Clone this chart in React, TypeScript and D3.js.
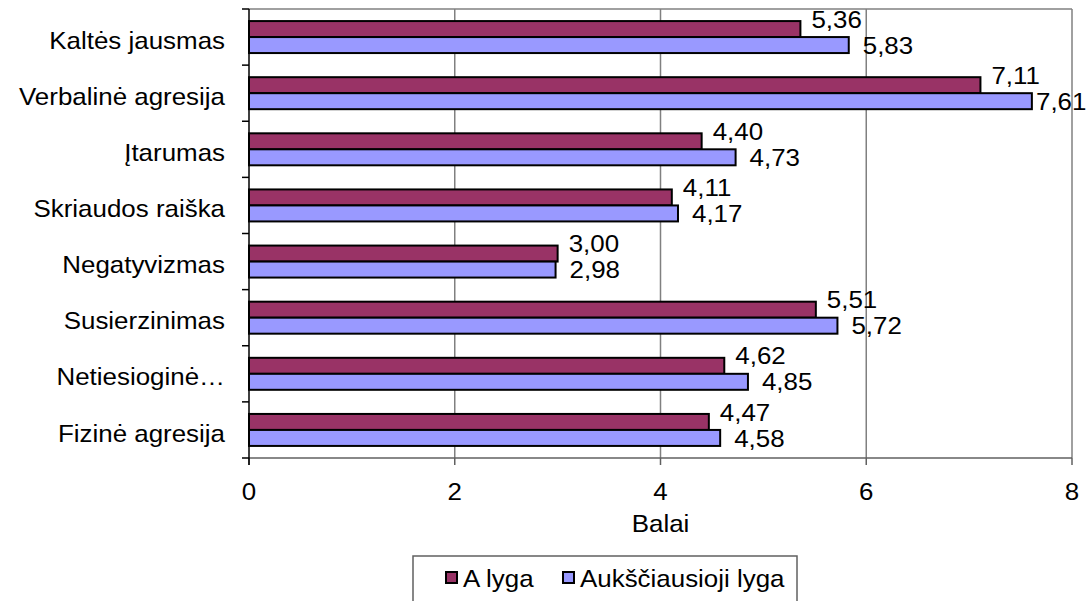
import * as d3 from "d3";

const categories = [
  "Kaltės jausmas",
  "Verbalinė agresija",
  "Įtarumas",
  "Skriaudos raiška",
  "Negatyvizmas",
  "Susierzinimas",
  "Netiesioginė…",
  "Fizinė agresija",
];
const seriesNames = ["A lyga", "Aukščiausioji lyga"];
const aLyga = [5.36, 7.11, 4.4, 4.11, 3.0, 5.51, 4.62, 4.47];
const aukstLyga = [5.83, 7.61, 4.73, 4.17, 2.98, 5.72, 4.85, 4.58];
const xTicks = [0, 2, 4, 6, 8];
const xTitle = "Balai";

const colors = ["#993366", "#9999FF"];
const W = 1092;
const H = 601;
const m = { left: 249, top: 9, right: 1072, bottom: 458 };
const FS = 24;
const SX = 1.08; // the original text is a bit wider than plain Arial
const FONT = "'Liberation Sans', Arial, sans-serif";

const fmt = (v: number) => d3.format(".2f")(v).replace(".", ",");

function T({ x, y, anchor = "start", children }: { x: number; y: number; anchor?: string; children: any }) {
  return (
    <text
      transform={`translate(${x},${y}) scale(${SX},1)`}
      textAnchor={anchor}
      dominantBaseline="central"
      fontSize={FS}
      fontFamily={FONT}
      fill="#000"
    >
      {children}
    </text>
  );
}

export default function App() {
  const x = d3.scaleLinear().domain([0, 8]).range([m.left, m.right]);
  const y = d3
    .scaleBand<string>()
    .domain(categories)
    .range([m.top, m.bottom])
    .paddingInner(0.43)
    .paddingOuter(0.215);
  const inner = d3.scaleBand<number>().domain([0, 1]).range([0, y.bandwidth()]);
  const step = y.step();
  const series = [aLyga, aukstLyga];
  const boundaries = d3.range(categories.length + 1).map((i) => m.top + i * step);

  return (
    <svg width={W} height={H} style={{ position: "absolute", left: 0, top: 0, background: "#fff" }}>
      {/* grid */}
      {xTicks.slice(1).map((t) => (
        <line key={t} x1={x(t)} x2={x(t)} y1={m.top} y2={m.bottom} stroke="#808080" strokeWidth={1.5} />
      ))}
      <line x1={m.left} x2={m.right} y1={m.top} y2={m.top} stroke="#808080" strokeWidth={1.5} />

      {/* bars */}
      {categories.map((c, i) =>
        series.map((s, j) => {
          const y0 = (y(c) as number) + (inner(j) as number);
          return (
            <rect
              key={c + j}
              x={x(0)}
              y={y0}
              width={x(s[i]) - x(0)}
              height={inner.bandwidth()}
              fill={colors[j]}
              stroke="#000"
              strokeWidth={2}
            />
          );
        })
      )}

      {/* value labels */}
      {categories.map((c, i) =>
        series.map((s, j) => {
          const yc = (y(c) as number) + (inner(j) as number) + inner.bandwidth() / 2;
          const lx = Math.min(x(s[i]) + (j === 0 ? 11 : 14), W - 56);
          return (
            <T key={"l" + c + j} x={lx} y={j === 0 ? yc - 10 : yc}>
              {fmt(s[i])}
            </T>
          );
        })
      )}

      {/* axes */}
      <line x1={m.left} x2={m.right} y1={m.bottom} y2={m.bottom} stroke="#606060" strokeWidth={1.5} />
      {xTicks.map((t) => (
        <g key={"xt" + t}>
          <line x1={x(t)} x2={x(t)} y1={m.bottom} y2={m.bottom + 7} stroke="#606060" strokeWidth={1.5} />
          <T x={x(t)} y={491} anchor="middle">
            {t}
          </T>
        </g>
      ))}
      <T x={(m.left + m.right) / 2} y={523} anchor="middle">
        {xTitle}
      </T>
      <line x1={m.left} x2={m.left} y1={m.top} y2={m.bottom + 7} stroke="#000" strokeWidth={1.5} />
      {boundaries.map((b, i) => (
        <line key={"yt" + i} x1={m.left - 7} x2={m.left} y1={b} y2={b} stroke="#000" strokeWidth={1.5} />
      ))}
      {categories.map((c) => (
        <T key={"c" + c} x={225} y={(y(c) as number) + y.bandwidth() / 2 + 3} anchor="end">
          {c}
        </T>
      ))}

      {/* legend */}
      <rect x={413} y={556} width={384} height={60} fill="#fff" stroke="#606060" strokeWidth={1.5} />
      {seriesNames.map((n, j) => {
        const lx = j === 0 ? 446 : 563;
        return (
          <g key={n}>
            <rect x={lx} y={572} width={11} height={11} fill={colors[j]} stroke="#000" strokeWidth={2} />
            <T x={lx + 17} y={578}>
              {n}
            </T>
          </g>
        );
      })}
    </svg>
  );
}
